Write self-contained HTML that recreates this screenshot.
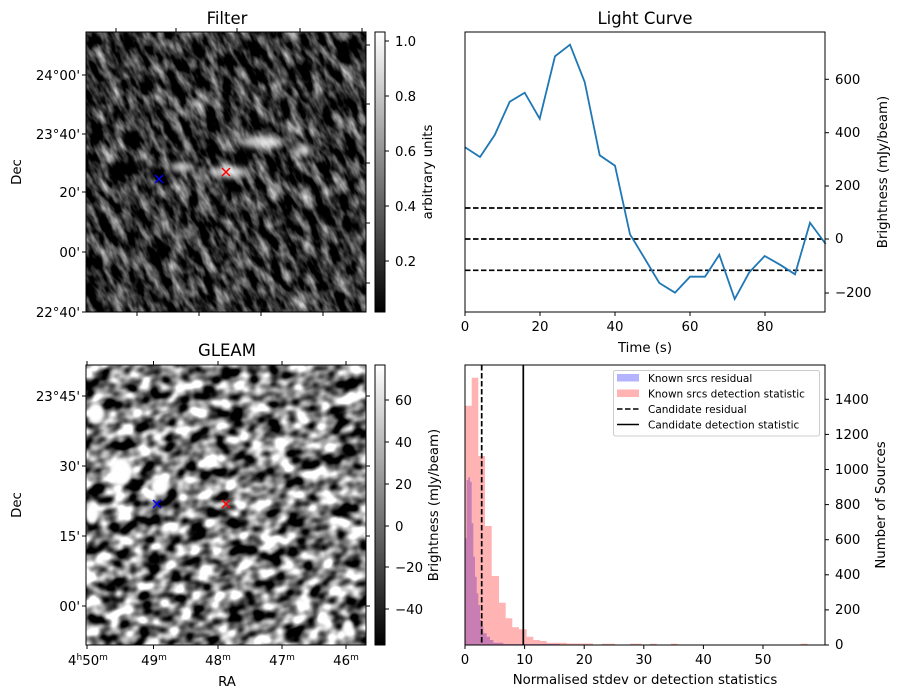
<!DOCTYPE html>
<html><head><meta charset="utf-8"><style>
html,body{margin:0;padding:0;background:#fff;width:902px;height:699px;overflow:hidden}
svg{display:block}
text{font-family:"DejaVu Sans","Liberation Sans",sans-serif;fill:#000}
.t{font-size:13.3px}
.ti{font-size:16.5px}
.lg{font-size:10.5px}
</style></head><body>
<svg width="902" height="699" viewBox="0 0 902 699" xmlns="http://www.w3.org/2000/svg">
<defs>
<filter id="f1" x="0" y="0" width="100%" height="100%" color-interpolation-filters="sRGB">
<feTurbulence type="fractalNoise" baseFrequency="0.11 0.045" numOctaves="3" seed="4"/>
<feColorMatrix values="1.6 0 0 0 -0.6  1.6 0 0 0 -0.6  1.6 0 0 0 -0.6  0 0 0 0 1"/>
</filter>
<filter id="f2" x="0" y="0" width="100%" height="100%" color-interpolation-filters="sRGB">
<feTurbulence type="fractalNoise" baseFrequency="0.06 0.075" numOctaves="2" seed="11"/>
<feColorMatrix values="2.7 0 0 0 -0.85  2.7 0 0 0 -0.85  2.7 0 0 0 -0.85  0 0 0 0 1"/>
</filter>
<filter id="bl"><feGaussianBlur stdDeviation="3"/></filter>
<filter id="bl2"><feGaussianBlur stdDeviation="1.5"/></filter>
<clipPath id="c1"><rect x="86" y="32" width="280" height="280"/></clipPath>
<clipPath id="c2"><rect x="86" y="365" width="280" height="280"/></clipPath>
<linearGradient id="g" x1="0" y1="1" x2="0" y2="0"><stop offset="0" stop-color="#000"/><stop offset="1" stop-color="#fff"/></linearGradient>
</defs>

<!-- Filter image -->
<g clip-path="url(#c1)">
<rect x="86" y="32" width="280" height="280" fill="#333"/>
<g transform="rotate(-28 226 172)"><rect x="-20" y="-80" width="500" height="500" filter="url(#f1)"/></g>
<g filter="url(#bl)" fill="#fff" opacity="0.75">
<ellipse cx="228" cy="172" rx="20" ry="6"/><ellipse cx="182" cy="167" rx="12" ry="5"/><ellipse cx="262" cy="142" rx="22" ry="6"/><ellipse cx="303" cy="150" rx="8" ry="6"/>
</g>
</g>
<rect x="86" y="32" width="280" height="280" fill="none" stroke="#000" stroke-width="1"/>
<g stroke="#000" stroke-width="1">
<line x1="82" y1="75" x2="86" y2="75"/><line x1="82" y1="134" x2="86" y2="134"/><line x1="82" y1="192" x2="86" y2="192"/><line x1="82" y1="252" x2="86" y2="252"/><line x1="82" y1="312" x2="86" y2="312"/>
<line x1="116" y1="28" x2="116" y2="32"/><line x1="176" y1="28" x2="176" y2="32"/><line x1="237" y1="28" x2="237" y2="32"/><line x1="300" y1="28" x2="300" y2="32"/><line x1="362" y1="28" x2="362" y2="32"/>
<line x1="137" y1="312" x2="137" y2="316"/><line x1="199" y1="312" x2="199" y2="316"/><line x1="261" y1="312" x2="261" y2="316"/><line x1="323" y1="312" x2="323" y2="316"/>
<line x1="366" y1="45" x2="370" y2="45"/><line x1="366" y1="104" x2="370" y2="104"/><line x1="366" y1="163" x2="370" y2="163"/><line x1="366" y1="223" x2="370" y2="223"/><line x1="366" y1="283" x2="370" y2="283"/>
</g>
<g class="t" text-anchor="end">
<text x="80" y="80">24°00'</text><text x="80" y="139">23°40'</text><text x="80" y="197">20'</text><text x="80" y="257">00'</text><text x="80" y="317">22°40'</text>
</g>
<text class="t" transform="translate(21 172) rotate(-90)" text-anchor="middle">Dec</text>
<text class="ti" x="227" y="24" text-anchor="middle">Filter</text>
<g stroke-width="1.5"><path d="M155 175l8 8M163 175l-8 8" stroke="#00f"/><path d="M222 168l8 8M230 168l-8 8" stroke="#f00"/></g>
<rect x="375" y="32" width="10" height="280" fill="url(#g)" stroke="#000" stroke-width="1"/>
<g stroke="#000"><line x1="385" y1="41" x2="389" y2="41"/><line x1="385" y1="96" x2="389" y2="96"/><line x1="385" y1="151" x2="389" y2="151"/><line x1="385" y1="206" x2="389" y2="206"/><line x1="385" y1="261" x2="389" y2="261"/></g>
<g class="t"><text x="395" y="46">1.0</text><text x="395" y="101">0.8</text><text x="395" y="156">0.6</text><text x="395" y="211">0.4</text><text x="395" y="266">0.2</text></g>
<text class="t" transform="translate(432 172) rotate(-90)" text-anchor="middle">arbitrary units</text>

<!-- GLEAM image -->
<g clip-path="url(#c2)">
<rect x="86" y="365" width="280" height="280" fill="#888"/>
<g transform="rotate(-15 226 505)"><rect x="-20" y="300" width="500" height="450" filter="url(#f2)"/></g>
<g filter="url(#bl2)" fill="#fff"><ellipse cx="121" cy="472" rx="11" ry="14"/><ellipse cx="160" cy="486" rx="9" ry="9"/><ellipse cx="92" cy="514" rx="7" ry="10"/><ellipse cx="96" cy="413" rx="8" ry="10"/><ellipse cx="348" cy="628" rx="5" ry="8"/></g>
</g>
<rect x="86" y="365" width="280" height="280" fill="none" stroke="#000" stroke-width="1"/>
<g stroke="#000" stroke-width="1">
<line x1="82" y1="396" x2="86" y2="396"/><line x1="82" y1="466" x2="86" y2="466"/><line x1="82" y1="536" x2="86" y2="536"/><line x1="82" y1="606" x2="86" y2="606"/>
<line x1="366" y1="396" x2="370" y2="396"/><line x1="366" y1="466" x2="370" y2="466"/><line x1="366" y1="536" x2="370" y2="536"/><line x1="366" y1="606" x2="370" y2="606"/>
<line x1="87" y1="645" x2="87" y2="649"/><line x1="153.5" y1="645" x2="153.5" y2="649"/><line x1="218" y1="645" x2="218" y2="649"/><line x1="282" y1="645" x2="282" y2="649"/><line x1="346" y1="645" x2="346" y2="649"/>
<line x1="87" y1="361" x2="87" y2="365"/><line x1="153.5" y1="361" x2="153.5" y2="365"/><line x1="218" y1="361" x2="218" y2="365"/><line x1="282" y1="361" x2="282" y2="365"/><line x1="346" y1="361" x2="346" y2="365"/>
</g>
<g class="t" text-anchor="end"><text x="80" y="401">23°45'</text><text x="80" y="471">30'</text><text x="80" y="541">15'</text><text x="80" y="611">00'</text></g>
<g class="t" text-anchor="middle"><text x="88" y="665">4<tspan font-size="9" dy="-5">h</tspan><tspan dy="5">50</tspan><tspan font-size="9" dy="-5">m</tspan></text>
<text x="154" y="665">49<tspan font-size="9" dy="-5">m</tspan></text><text x="218" y="665">48<tspan font-size="9" dy="-5">m</tspan></text><text x="282" y="665">47<tspan font-size="9" dy="-5">m</tspan></text><text x="346" y="665">46<tspan font-size="9" dy="-5">m</tspan></text></g>
<text class="t" x="227" y="686" text-anchor="middle">RA</text>
<text class="t" transform="translate(21 505) rotate(-90)" text-anchor="middle">Dec</text>
<text class="ti" x="227" y="356" text-anchor="middle">GLEAM</text>
<g stroke-width="1.5"><path d="M153 500l8 8M161 500l-8 8" stroke="#00f"/><path d="M222 500l8 8M230 500l-8 8" stroke="#f00"/></g>
<rect x="375" y="365" width="10" height="280" fill="url(#g)" stroke="#000" stroke-width="1"/>
<g stroke="#000"><line x1="385" y1="400" x2="389" y2="400"/><line x1="385" y1="442" x2="389" y2="442"/><line x1="385" y1="484" x2="389" y2="484"/><line x1="385" y1="526" x2="389" y2="526"/><line x1="385" y1="567" x2="389" y2="567"/><line x1="385" y1="609" x2="389" y2="609"/></g>
<g class="t"><text x="395" y="405">60</text><text x="395" y="447">40</text><text x="395" y="489">20</text><text x="395" y="531">0</text><text x="395" y="572">−20</text><text x="395" y="614">−40</text></g>
<text class="t" transform="translate(438 505) rotate(-90)" text-anchor="middle">Brightness (mJy/beam)</text>

<!-- Light curve -->
<text class="ti" x="645" y="24" text-anchor="middle">Light Curve</text>
<g stroke="#000" stroke-width="1.7" stroke-dasharray="5.5,2.5"><line x1="465" y1="208" x2="825" y2="208"/><line x1="465" y1="239" x2="825" y2="239"/><line x1="465" y1="270.3" x2="825" y2="270.3"/></g>
<polyline fill="none" stroke="#1f77b4" stroke-width="1.8" points="465,147.3 480,157 494.7,135 509.7,101.7 524.7,92.7 539.7,118.7 555,56.3 570,44.7 584.7,82 599.7,155.3 615,165.7 630,234.3 645,259 659.3,283 675,292.7 690,276.7 705,276.7 719.3,254.7 734.7,299 749.3,272.3 764.7,256 780,264.7 795,274.3 810,222.7 825.7,244"/>
<rect x="465" y="32" width="360" height="280" fill="none" stroke="#000" stroke-width="1"/>
<g stroke="#000"><line x1="465" y1="312" x2="465" y2="316"/><line x1="540" y1="312" x2="540" y2="316"/><line x1="615" y1="312" x2="615" y2="316"/><line x1="690" y1="312" x2="690" y2="316"/><line x1="765" y1="312" x2="765" y2="316"/>
<line x1="825" y1="79.3" x2="829" y2="79.3"/><line x1="825" y1="132.7" x2="829" y2="132.7"/><line x1="825" y1="186" x2="829" y2="186"/><line x1="825" y1="239" x2="829" y2="239"/><line x1="825" y1="293" x2="829" y2="293"/></g>
<g class="t" text-anchor="middle"><text x="465" y="331">0</text><text x="540" y="331">20</text><text x="615" y="331">40</text><text x="690" y="331">60</text><text x="765" y="331">80</text></g>
<g class="t"><text x="835" y="84">600</text><text x="835" y="137">400</text><text x="835" y="190">200</text><text x="835" y="243">0</text><text x="835" y="297">−200</text></g>
<text class="t" x="645" y="352" text-anchor="middle">Time (s)</text>
<text class="t" transform="translate(887 172) rotate(-90)" text-anchor="middle">Brightness (mJy/beam)</text>

<!-- Histogram -->
<path fill="#ffb3b3" d="M465 645V405.7H471.7V377.7H478.3V456H485V526H491.7V576H499V602.7H505.7V618.3H512.3V627.3H519V629.3H526.7V636.7H533.3V640H540V641H546.7V642.7H566.7V643.5H593V645Z M601.7 645V643.7H615V645Z M630 645V643.7H641.7V645Z M650 645V643.7H656.7V645Z M671 645V643.7H677.7V645Z M800.7 645V643.7H807.7V645Z"/>
<path fill="#c87eb2" d="M465 645V538.3H466.7V480H468.3V477.3H470V481.7H471.7V523.3H473.3V556.7H475V576.7H476.7V593.3H478.3V605H480V620H481.7V626.7H483.3V633.3H486.7V636.7H490V640H493.3V642.7H503.3V644H560V645Z"/>
<line x1="481.7" y1="365" x2="481.7" y2="645" stroke="#000" stroke-width="1.7" stroke-dasharray="5.5,2.5"/>
<line x1="523.3" y1="365" x2="523.3" y2="645" stroke="#000" stroke-width="1.7"/>
<rect x="465" y="365" width="360" height="280" fill="none" stroke="#000" stroke-width="1"/>
<g stroke="#000"><line x1="465" y1="645" x2="465" y2="649"/><line x1="524.6" y1="645" x2="524.6" y2="649"/><line x1="584.2" y1="645" x2="584.2" y2="649"/><line x1="643.8" y1="645" x2="643.8" y2="649"/><line x1="703.4" y1="645" x2="703.4" y2="649"/><line x1="763" y1="645" x2="763" y2="649"/>
<line x1="825" y1="645" x2="829" y2="645"/><line x1="825" y1="609.9" x2="829" y2="609.9"/><line x1="825" y1="574.8" x2="829" y2="574.8"/><line x1="825" y1="539.7" x2="829" y2="539.7"/><line x1="825" y1="504.6" x2="829" y2="504.6"/><line x1="825" y1="469.5" x2="829" y2="469.5"/><line x1="825" y1="434.4" x2="829" y2="434.4"/><line x1="825" y1="399.3" x2="829" y2="399.3"/></g>
<g class="t" text-anchor="middle"><text x="465" y="664">0</text><text x="524.6" y="664">10</text><text x="584.2" y="664">20</text><text x="643.8" y="664">30</text><text x="703.4" y="664">40</text><text x="763" y="664">50</text></g>
<g class="t"><text x="835" y="649">0</text><text x="835" y="614">200</text><text x="835" y="579">400</text><text x="835" y="544">600</text><text x="835" y="509">800</text><text x="835" y="474">1000</text><text x="835" y="439">1200</text><text x="835" y="404">1400</text></g>
<text class="t" x="645" y="684" text-anchor="middle">Normalised stdev or detection statistics</text>
<text class="t" transform="translate(885 505) rotate(-90)" text-anchor="middle">Number of Sources</text>
<rect x="613.5" y="370.5" width="206" height="65.5" rx="2" fill="#fff" fill-opacity="0.8" stroke="#ccc"/>
<rect x="617" y="374" width="22" height="7.5" fill="#b3b3ff"/>
<rect x="617" y="389.5" width="22" height="7.5" fill="#ffb3b3"/>
<line x1="617" y1="409" x2="639" y2="409" stroke="#000" stroke-width="1.5" stroke-dasharray="5.5,2.5"/>
<line x1="617" y1="424.5" x2="639" y2="424.5" stroke="#000" stroke-width="1.5"/>
<g class="lg"><text x="648" y="382">Known srcs residual</text><text x="648" y="397.5">Known srcs detection statistic</text><text x="648" y="413">Candidate residual</text><text x="648" y="428.5">Candidate detection statistic</text></g>
</svg>
</body></html>
